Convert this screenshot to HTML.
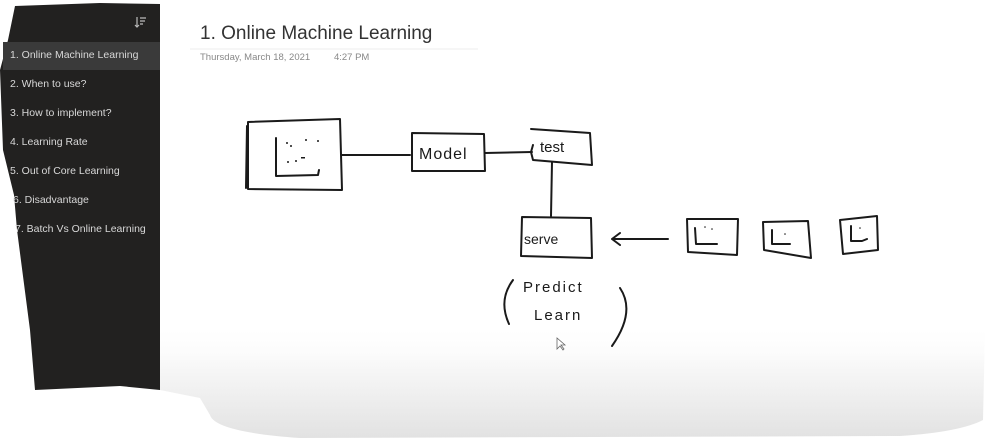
<!DOCTYPE html>
<html><head><meta charset="utf-8"><style>
html,body{margin:0;padding:0;background:#fff;width:987px;height:446px;overflow:hidden;position:relative;font-family:"Liberation Sans",sans-serif}
.it{position:absolute;left:20px;font-size:10.5px;color:#d8d8d8}
</style></head><body>
<svg width="987" height="446" style="position:absolute;left:0;top:0">
<defs><linearGradient id="g" x1="0" y1="0" x2="0" y2="1">
<stop offset="0" stop-color="#fff"/><stop offset="0.2" stop-color="#fcfcfc"/><stop offset="1" stop-color="#e2e2e2"/></linearGradient></defs>
<path d="M160 330 L985 330 L983 420 Q960 432 900 436 L300 438 Q215 432 210 415 L200 398 L160 390 Z" fill="url(#g)"/>
<polygon points="15,6 100,3 160,4 160,390 120,386 35,390 30,330 17,230 14,195 3,150 0,70 8,40" fill="#222120"/>
<rect x="3" y="42" width="157" height="28" fill="#3a3a3a"/>
<line x1="190" y1="49" x2="478" y2="49" stroke="#ececec" stroke-width="1"/>
<g fill="none" stroke="#1a1a1a" stroke-width="2" stroke-linecap="round" stroke-linejoin="round">
<path d="M248 122 L340 119 L342 190 L248 189 Z M247 126 L246 188"/>
<path d="M276 138 L276 176 L318 175 L319 170"/>
<path d="M342 155 L410 155"/>
<path d="M412 133 L484 134 L485 171 L412 171 Z"/>
<path d="M485 153 L532 152"/>
<path d="M531 129 L590 133 L592 165 L533 160 L531 152 L533 145"/>
<path d="M552 162 L551 216"/>
<path d="M522 217 L591 218 L592 258 L521 256 Z"/>
<path d="M668 239 L612 239 M620 233 L612 239 L620 245"/>
<path d="M687 219 L738 219 L737 255 L688 252 Z M695 228 L696 244 L717 244"/>
<path d="M763 222 L808 221 L811 258 L764 250 Z M772 230 L772 244 L790 244"/>
<path d="M840 220 L877 216 L878 250 L843 254 Z M851 226 L851 241 L862 241 L867 239"/>
<path d="M513 280 Q498 300 509 324"/>
<path d="M620 288 Q636 312 612 346"/>
</g>
<g fill="#1a1a1a"><circle cx="287" cy="143" r="1"/><circle cx="291" cy="146" r="1"/><circle cx="306" cy="140" r="1"/><circle cx="318" cy="141" r="1"/><circle cx="288" cy="162" r="1"/><circle cx="296" cy="161" r="1"/><rect x="301" y="157" width="4" height="1.5"/>
<circle cx="705" cy="227" r="0.8"/><circle cx="712" cy="229" r="0.8"/><circle cx="785" cy="234" r="0.8"/><circle cx="860" cy="228" r="0.8"/></g>
<g font-family="Liberation Sans,sans-serif" fill="#1a1a1a" font-size="16">
<text x="419" y="159" letter-spacing="1">Model</text>
<text x="540" y="152" font-size="15">test</text>
<text x="524" y="244" font-size="14">serve</text>
<text x="523" y="292" font-size="15" letter-spacing="2">Predict</text>
<text x="534" y="320" font-size="15" letter-spacing="2">Learn</text>
</g>
<path d="M557 338 L557 349 L560 346 L563 350 L564 349 L561 345 L565 345 Z" fill="#fff" stroke="#666" stroke-width="0.8"/>
<g stroke="#bbb" stroke-width="1.2"><path d="M137 17 L137 27 M135 25 L137 27 L139 25 M140 18 L146 18 M140 21 L145 21 M140 24 L143 24"/></g>
</svg>
<div style="position:absolute;left:200px;top:23px;font-size:19px;color:#333">1. Online Machine Learning</div>
<div style="position:absolute;left:200px;top:52px;font-size:9.5px;color:#888">Thursday, March 18, 2021&nbsp;&nbsp;&nbsp;&nbsp;&nbsp;&nbsp;&nbsp;&nbsp;&nbsp;4:27 PM</div>
<div class="it" style="top:49px;left:10px">1. Online Machine Learning</div>
<div class="it" style="top:78px;left:10px">2. When to use?</div>
<div class="it" style="top:107px;left:10px">3. How to implement?</div>
<div class="it" style="top:136px;left:10px">4. Learning Rate</div>
<div class="it" style="top:165px;left:10px">5. Out of Core Learning</div>
<div class="it" style="top:194px;left:13px">6. Disadvantage</div>
<div class="it" style="top:223px;left:15px">7. Batch Vs Online Learning</div>
</body></html>
